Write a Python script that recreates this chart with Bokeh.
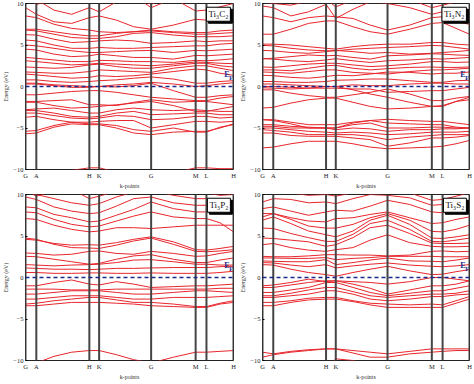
from bokeh.plotting import figure
from bokeh.layouts import column, row
from bokeh.models import Range1d, Span, Label, FixedTicker
from bokeh.embed import file_html
from bokeh.resources import INLINE

# high-symmetry path
hs_labels = ["G", "A", "H", "K", "G", "M", "L", "H"]
hs_pos = [0.0, 0.052, 0.307, 0.354, 0.604, 0.818, 0.870, 1.0]
# k sampling used for band values
kpts = [0.0, 0.052, 0.137, 0.222, 0.307, 0.354, 0.437, 0.520, 0.604, 0.711, 0.818, 0.870, 0.935, 1.0]
energy_ticks = [-10, -5, 0, 5, 10]

titles = ["Ti\u2083C\u2082", "Ti\u2083N\u2082", "Ti\u2083P\u2082", "Ti\u2083S\u2082"]

bands_ti3c2 = [
    [-11, -11, -10.6, -10.1, -9.8, -9.8, -10.3, -10.8, -11, -10.4, -9.8, -9.8, -9.9, -9.9],
    [-5.7, -5.6, -4.9, -4.5, -4.6, -4.6, -5.0, -5.6, -5.8, -5.5, -5.4, -5.4, -5.0, -4.5],
    [-5.4, -5.3, -4.7, -4.3, -4.5, -4.5, -4.7, -5.2, -5.4, -5.0, -5.5, -5.5, -4.9, -4.6],
    [-3.7, -3.6, -4.0, -4.3, -4.3, -4.2, -4.1, -4.1, -5.0, -4.6, -4.2, -4.2, -4.3, -4.2],
    [-3.2, -3.2, -3.5, -3.8, -3.9, -3.8, -3.5, -3.6, -4.0, -3.9, -3.6, -3.6, -3.8, -3.7],
    [-2.9, -2.9, -3.2, -3.6, -3.7, -3.6, -3.2, -3.0, -3.4, -3.3, -3.2, -3.2, -3.4, -3.4],
    [-2.8, -2.7, -2.6, -2.9, -3.2, -3.2, -2.8, -2.6, -2.8, -2.9, -2.8, -2.9, -3.0, -3.0],
    [-1.9, -1.9, -2.3, -2.6, -2.5, -2.4, -2.2, -2.0, -1.8, -2.3, -3.0, -3.0, -2.7, -2.4],
    [-1.8, -1.8, -1.7, -1.6, -2.2, -2.2, -2.3, -1.9, -1.6, -1.9, -1.8, -1.8, -2.0, -2.2],
    [-1.0, -1.0, -0.8, -0.6, -0.5, -0.5, -0.7, -1.0, -1.3, -1.5, -1.7, -1.7, -1.4, -1.2],
    [0.3, 0.3, 0.1, -0.1, -0.1, 0.0, -0.05, 0.1, 0.4, -0.5, -1.3, -1.3, -1.1, -1.0],
    [0.4, 0.4, 0.2, 0.1, 0.0, 0.0, 0.2, 0.3, 0.5, 0.3, 0.0, 0.1, 0.3, 0.45],
    [0.8, 0.8, 0.6, 0.5, 0.6, 0.7, 0.8, 1.0, 1.15, 0.9, 0.4, 0.4, 0.6, 0.7],
    [1.5, 1.4, 1.2, 1.0, 1.1, 1.3, 1.2, 1.3, 1.5, 1.8, 2.1, 2.0, 1.6, 1.35],
    [1.75, 1.7, 1.6, 1.6, 1.8, 2.0, 1.9, 1.8, 1.7, 2.2, 2.5, 2.5, 2.2, 1.9],
    [2.35, 2.3, 2.2, 2.3, 2.6, 2.7, 2.4, 2.2, 2.2, 2.5, 2.8, 2.8, 2.5, 2.35],
    [3.1, 3.0, 2.8, 2.6, 2.7, 2.8, 2.7, 2.6, 2.5, 2.7, 2.95, 2.9, 2.8, 2.75],
    [3.5, 3.4, 3.2, 3.0, 3.0, 3.15, 3.1, 3.0, 3.0, 2.9, 3.15, 3.1, 3.2, 3.35],
    [4.5, 4.4, 3.9, 3.6, 3.7, 3.9, 3.7, 3.5, 3.5, 3.3, 3.75, 3.7, 3.8, 3.9],
    [5.0, 4.9, 4.6, 4.3, 4.1, 4.1, 4.2, 4.3, 4.35, 4.1, 4.35, 4.3, 4.4, 4.5],
    [5.6, 5.5, 5.0, 4.6, 4.6, 4.7, 4.6, 4.6, 4.7, 4.8, 4.9, 4.9, 5.1, 5.2],
    [6.25, 6.2, 5.7, 5.3, 5.4, 5.5, 5.6, 5.5, 5.2, 5.3, 5.5, 5.4, 5.5, 5.5],
    [6.8, 6.7, 6.3, 5.9, 5.8, 5.8, 6.0, 6.4, 6.5, 6.2, 6.0, 6.0, 6.0, 6.1],
    [6.9, 6.9, 6.6, 6.3, 6.1, 6.1, 6.4, 6.6, 6.7, 6.5, 6.3, 6.3, 6.4, 6.5],
    [8.5, 8.3, 7.5, 7.0, 6.8, 6.6, 6.5, 6.6, 6.8, 6.6, 6.5, 6.5, 6.7, 6.8],
    [9.5, 8.7, 7.8, 7.6, 8.3, 8.5, 8.0, 7.2, 6.9, 7.4, 8.1, 8.0, 8.1, 8.2],
    [10.5, 10.5, 9.2, 8.7, 9.5, 9.0, 10.2, 11, 9.5, 10.6, 9.1, 9.2, 9.6, 10.0],
    [11, 9.9, 10.4, 11, 11, 10.5, 11, 11, 9.9, 11, 10.2, 10.5, 11, 11],
]

bands_ti3n2 = [
    [-7.4, -7.3, -6.9, -6.6, -6.6, -6.6, -6.9, -7.3, -7.5, -7.4, -7.3, -7.2, -6.9, -6.5],
    [-5.6, -5.6, -5.9, -6.0, -6.0, -6.0, -6.2, -6.4, -7.2, -6.8, -6.2, -6.2, -6.1, -5.9],
    [-5.2, -5.3, -5.5, -5.8, -5.8, -5.8, -5.8, -6.0, -6.4, -6.1, -5.9, -5.8, -5.8, -5.8],
    [-5.0, -5.0, -5.2, -5.4, -5.5, -5.6, -5.5, -5.6, -5.8, -5.7, -5.5, -5.5, -5.5, -5.4],
    [-4.8, -4.8, -5.0, -5.0, -5.0, -5.2, -5.0, -5.1, -5.4, -5.2, -5.2, -5.1, -5.1, -5.0],
    [-4.6, -4.6, -4.8, -4.9, -5.0, -5.0, -4.6, -4.4, -5.0, -5.0, -4.9, -4.9, -5.0, -5.0],
    [-4.0, -4.0, -4.3, -4.6, -4.6, -4.6, -4.3, -4.1, -3.95, -4.1, -4.2, -4.2, -4.4, -4.6],
    [-4.0, -4.1, -4.5, -5.0, -5.0, -5.0, -4.4, -4.1, -4.4, -4.5, -4.6, -4.6, -4.9, -5.0],
    [-2.6, -2.5, -2.0, -1.6, -1.4, -1.4, -1.9, -2.4, -2.7, -2.6, -2.4, -2.3, -1.8, -1.6],
    [-0.15, -0.2, -0.3, -0.2, 0.0, 0.0, -0.4, -0.9, -1.3, -1.9, -2.4, -2.4, -1.8, -1.3],
    [-0.4, -0.4, -0.8, -1.1, -1.3, -1.3, -1.0, -0.7, -0.3, -0.9, -1.7, -1.7, -1.4, -1.2],
    [0.0, 0.0, -0.1, -0.2, -0.2, -0.2, -0.3, -0.3, -0.7, -0.6, -0.5, -0.5, -0.3, -0.1],
    [0.3, 0.3, 0.2, 0.1, 0.0, 0.0, 0.2, 0.1, 0.1, 0.3, 0.4, 0.4, 0.3, 0.3],
    [0.6, 0.6, 0.5, 0.5, 0.6, 0.75, 0.8, 0.9, 0.9, 0.7, 0.5, 0.5, 0.7, 0.75],
    [1.35, 1.3, 1.1, 1.0, 1.2, 1.35, 1.3, 1.5, 1.75, 1.7, 1.5, 1.6, 1.6, 1.75],
    [1.75, 1.7, 1.6, 1.8, 2.0, 2.0, 1.7, 1.6, 1.5, 1.8, 2.0, 2.0, 2.1, 2.2],
    [2.0, 2.0, 1.9, 2.2, 2.5, 2.55, 2.2, 2.0, 2.15, 2.3, 2.35, 2.3, 2.3, 2.35],
    [2.35, 2.3, 2.5, 2.7, 2.8, 2.8, 2.6, 2.4, 2.5, 2.7, 3.0, 3.0, 2.9, 2.95],
    [3.35, 3.3, 3.1, 3.0, 3.2, 3.35, 3.1, 2.9, 3.1, 3.2, 3.35, 3.3, 3.4, 3.5],
    [3.35, 3.4, 3.6, 3.8, 3.7, 3.75, 3.5, 3.3, 3.7, 3.8, 3.95, 3.9, 3.8, 3.75],
    [4.35, 4.3, 4.1, 4.0, 4.2, 4.35, 4.2, 4.0, 4.1, 3.9, 4.0, 4.1, 4.2, 4.35],
    [4.95, 4.9, 4.6, 4.4, 4.3, 4.3, 4.5, 4.6, 4.7, 4.8, 4.95, 4.9, 4.7, 4.5],
    [5.1, 5.1, 5.0, 4.8, 4.6, 4.5, 4.8, 5.0, 5.1, 5.1, 5.3, 5.3, 5.1, 5.0],
    [6.3, 6.3, 6.9, 7.6, 7.9, 7.9, 7.2, 6.6, 6.3, 6.9, 7.6, 7.7, 7.0, 6.3],
    [8.5, 8.3, 7.8, 8.3, 8.5, 8.4, 8.2, 7.4, 6.8, 7.4, 8.3, 8.4, 7.8, 7.5],
    [9.7, 9.5, 8.5, 9.0, 9.9, 8.2, 9.3, 10.2, 10.0, 9.5, 8.7, 9.0, 9.2, 9.3],
    [10.2, 10.0, 9.8, 10.3, 10.5, 9.6, 10.4, 11, 10.3, 10.5, 9.5, 9.8, 10.2, 10.4],
]

bands_ti3p2 = [
    [-10.8, -10.3, -9.5, -9.0, -8.8, -8.8, -9.3, -9.9, -10.3, -9.6, -9.0, -9.0, -8.9, -8.8],
    [-3.4, -3.4, -3.2, -3.0, -3.0, -3.0, -3.1, -3.2, -3.4, -3.5, -3.6, -3.6, -3.2, -3.0],
    [-3.2, -3.1, -2.8, -2.6, -2.4, -2.4, -2.7, -3.0, -3.0, -3.2, -3.5, -3.5, -3.1, -2.8],
    [-2.6, -2.6, -2.4, -2.2, -2.2, -2.2, -2.4, -2.6, -2.6, -2.4, -2.4, -2.4, -2.3, -2.2],
    [-2.0, -2.0, -1.8, -1.6, -1.6, -1.6, -1.8, -2.0, -2.0, -1.8, -1.6, -1.6, -1.7, -1.8],
    [-1.4, -1.4, -1.4, -1.5, -1.5, -1.5, -1.4, -1.4, -1.4, -1.4, -1.4, -1.4, -1.3, -1.3],
    [-1.0, -1.0, -0.6, -0.3, -0.8, -0.9, -0.5, -0.8, -1.2, -1.1, -1.0, -1.0, -0.9, -0.8],
    [0.6, 0.6, 0.5, 0.5, 0.55, 0.55, 0.5, 0.5, 0.55, 0.5, 0.5, 0.5, 0.6, 0.75],
    [1.15, 1.1, 1.0, 1.0, 0.95, 1.0, 1.1, 1.1, 1.15, 1.2, 1.2, 1.2, 1.3, 1.35],
    [1.55, 1.5, 1.4, 1.5, 1.55, 1.6, 1.8, 2.1, 2.15, 1.9, 1.6, 1.6, 1.5, 1.5],
    [2.55, 2.5, 2.2, 1.9, 1.6, 1.7, 2.2, 2.6, 2.75, 2.2, 1.8, 1.8, 2.1, 2.35],
    [2.95, 2.9, 2.7, 2.8, 3.15, 3.2, 2.9, 2.8, 3.15, 2.9, 2.55, 2.6, 2.9, 3.15],
    [4.75, 4.6, 4.0, 3.6, 3.55, 3.5, 3.9, 4.4, 4.75, 4.0, 3.15, 3.1, 3.2, 3.35],
    [4.6, 4.5, 4.1, 3.9, 3.95, 3.9, 4.2, 4.6, 4.9, 4.3, 3.35, 3.3, 3.5, 3.75],
    [7.1, 7.0, 6.3, 5.8, 5.5, 5.6, 6.0, 6.0, 5.9, 6.1, 6.3, 6.3, 6.3, 6.3],
    [7.9, 7.8, 7.0, 6.4, 6.1, 6.2, 6.8, 7.4, 7.9, 7.3, 7.1, 7.1, 6.6, 5.5],
    [8.5, 8.4, 7.6, 7.2, 6.7, 6.8, 7.5, 8.2, 9.1, 8.3, 7.9, 7.9, 7.8, 7.9],
    [9.7, 9.4, 8.5, 8.0, 7.7, 7.8, 8.6, 9.5, 9.7, 9.0, 8.7, 8.7, 8.4, 8.5],
    [10.3, 10.0, 9.5, 9.0, 8.7, 8.9, 9.7, 10.3, 10.5, 9.9, 9.5, 9.5, 9.2, 9.2],
    [10.5, 9.8, 10.4, 10.6, 9.5, 9.8, 10.4, 10.8, 10.5, 10.4, 10.3, 10.2, 9.9, 10.0],
]

bands_ti3s2 = [
    [-9.0, -9.2, -8.9, -8.7, -8.6, -8.6, -8.8, -9.0, -9.2, -8.9, -8.6, -8.6, -8.6, -8.6],
    [-9.6, -9.3, -9.0, -8.8, -8.6, -8.6, -9.1, -9.6, -9.6, -9.2, -9.0, -8.9, -8.8, -8.8],
    [-10.6, -10.5, -10.8, -11, -11, -9.8, -10.0, -10.6, -11, -10.8, -10.6, -10.6, -10.8, -11],
    [-3.4, -3.4, -3.0, -2.7, -2.6, -2.6, -2.9, -3.3, -3.6, -3.6, -3.6, -3.6, -3.1, -2.6],
    [-3.0, -3.0, -2.8, -2.5, -2.4, -2.4, -2.8, -3.1, -3.2, -3.3, -3.2, -3.3, -2.8, -2.3],
    [-2.4, -2.4, -2.2, -2.0, -1.6, -1.6, -2.0, -2.6, -2.8, -2.6, -2.3, -2.3, -2.1, -2.0],
    [-2.2, -2.2, -1.9, -1.5, -1.2, -1.2, -1.7, -2.2, -2.4, -2.2, -2.0, -2.0, -1.9, -1.6],
    [-1.8, -1.8, -1.5, -1.2, -0.6, -0.6, -1.2, -1.8, -2.2, -1.9, -1.6, -1.6, -1.3, -1.0],
    [-1.2, -1.2, -0.9, -0.6, -0.4, -0.4, -0.8, -1.3, -2.0, -1.5, -1.0, -1.0, -0.8, -0.4],
    [-1.0, -0.9, -0.6, -0.2, -0.5, -0.4, -0.5, -0.6, -0.8, -0.5, 0.0, 0.0, -0.2, -0.4],
    [1.55, 1.5, 1.0, 0.6, 0.35, 0.15, 0.6, 1.0, 1.35, 0.8, 0.35, 0.4, 0.7, 0.95],
    [1.8, 1.75, 1.5, 1.3, 1.55, 1.15, 1.4, 1.6, 1.75, 1.5, 1.35, 1.3, 1.4, 1.55],
    [2.0, 1.95, 1.9, 1.9, 2.15, 1.55, 1.8, 2.1, 2.35, 2.0, 1.95, 1.9, 2.1, 2.35],
    [2.35, 2.35, 2.3, 2.3, 2.4, 2.15, 2.3, 2.4, 2.55, 2.55, 2.55, 2.5, 2.5, 2.5],
    [2.55, 2.5, 2.5, 2.6, 2.75, 2.75, 2.7, 2.7, 2.6, 2.7, 3.15, 3.2, 3.1, 3.15],
    [3.95, 4.1, 3.6, 3.3, 3.15, 3.35, 3.6, 4.5, 5.15, 4.2, 3.75, 3.7, 3.7, 3.75],
    [4.75, 4.7, 4.5, 4.3, 3.75, 3.95, 4.8, 6.0, 6.3, 5.3, 4.15, 4.1, 4.1, 4.15],
    [5.95, 5.9, 5.3, 4.8, 4.35, 4.35, 5.2, 6.5, 6.9, 5.8, 4.35, 4.3, 4.5, 4.75],
    [6.9, 7.3, 6.5, 5.6, 5.15, 4.9, 5.6, 6.9, 7.5, 6.4, 4.75, 4.7, 4.9, 5.15],
    [7.3, 7.7, 7.0, 6.2, 5.95, 5.95, 6.4, 7.2, 7.7, 6.9, 5.55, 5.5, 5.8, 6.3],
    [7.7, 7.7, 7.2, 6.8, 6.7, 7.1, 7.2, 7.6, 7.9, 7.2, 6.5, 6.6, 7.0, 7.3],
    [8.3, 8.5, 8.0, 7.5, 7.9, 8.1, 8.0, 8.6, 9.3, 8.8, 7.9, 7.8, 7.9, 7.9],
    [9.1, 9.5, 9.4, 9.0, 9.1, 8.9, 9.5, 10.0, 9.9, 9.6, 8.7, 8.8, 9.0, 9.3],
    [10.2, 10.3, 10.2, 9.9, 10.0, 9.8, 10.2, 10.5, 10.5, 10.2, 9.3, 9.4, 9.8, 10.2],
]

all_bands = [bands_ti3c2, bands_ti3n2, bands_ti3p2, bands_ti3s2]

FONT = "Liberation Serif"
RED = "#e8262c"
GRAY = "#454545"
BLUE = "#1c2a8c"

# (width, height, min_border_left, right, top, bottom)
sizes = [
    (237, 191, 14, 4, 3, 14),
    (236, 191, 14, 4, 3, 14),
    (237, 191, 14, 4, 3, 14),
    (236, 191, 14, 4, 3, 14),
]


def make_panel(i):
    w, h, bl, br, bt, bb = sizes[i]
    p = figure(width=w, height=h, output_backend="svg", toolbar_location=None,
               x_range=Range1d(0, 1), y_range=Range1d(-10, 10),
               min_border_left=bl, min_border_right=br,
               min_border_top=bt, min_border_bottom=bb)
    p.grid.visible = False
    p.outline_line_color = "#222222"
    p.outline_line_width = 1
    p.background_fill_color = "white"

    bands = all_bands[i]
    p.multi_line(xs=[kpts] * len(bands), ys=bands, line_color=RED, line_width=1)

    # high-symmetry verticals as thin filled bars
    p.rect(x=hs_pos, y=[0] * len(hs_pos), width=2, height=20, width_units="screen",
           fill_color=GRAY, line_color=None)
    p.add_layout(Span(location=0, dimension="width", line_color=BLUE,
                      line_width=1.5, line_dash="4 3"))

    # axes
    p.xaxis.ticker = FixedTicker(ticks=hs_pos)
    p.xaxis.major_label_overrides = {x: l for x, l in zip(hs_pos, hs_labels)}
    p.xaxis.major_tick_line_color = None
    p.xaxis.major_tick_in = 0
    p.xaxis.major_tick_out = 0
    p.xaxis.minor_tick_line_color = None
    p.xaxis.minor_tick_in = 0
    p.xaxis.minor_tick_out = 0
    p.xaxis.axis_line_color = None
    p.xaxis.major_label_standoff = 2
    p.xaxis.axis_label = "k-points"
    p.xaxis.axis_label_standoff = 1
    p.yaxis.ticker = FixedTicker(ticks=energy_ticks)
    p.yaxis.minor_tick_line_color = None
    p.yaxis.minor_tick_in = 0
    p.yaxis.minor_tick_out = 0
    p.yaxis.major_tick_in = 2
    p.yaxis.major_tick_out = 0
    p.yaxis.axis_line_color = None
    p.yaxis.major_label_standoff = 2
    p.yaxis.axis_label = "Energy (eV)"
    p.yaxis.axis_label_standoff = 1
    for ax in (p.xaxis, p.yaxis):
        ax.major_label_text_font = FONT
        ax.major_label_text_font_size = "6.5px"
        ax.major_label_text_color = "#222222"
        ax.axis_label_text_font = FONT
        ax.axis_label_text_font_size = "6px"
        ax.axis_label_text_font_style = "normal"
        ax.axis_label_text_color = "#333333"

    # compound label box with shadow
    p.add_layout(Label(x=0.985, y=9.55, x_offset=2, y_offset=-2, text=titles[i],
                       text_align="right", text_baseline="top",
                       text_font=FONT, text_font_size="9px", text_color="black",
                       background_fill_color="black", border_line_color="black",
                       padding=2))
    p.add_layout(Label(x=0.985, y=9.55, text=titles[i],
                       text_align="right", text_baseline="top",
                       text_font=FONT, text_font_size="9px", text_color="#111111",
                       background_fill_color="white", border_line_color="black",
                       border_line_width=1, padding=2))
    # Fermi level label
    p.add_layout(Label(x=0.955, y=0.95, text="E", text_font=FONT,
                       text_font_size="8px", text_color=BLUE,
                       text_font_style="bold", text_baseline="bottom"))
    p.add_layout(Label(x=0.955, y=0.95, x_offset=5, y_offset=-2, text="F",
                       text_font=FONT, text_font_size="6px", text_color=BLUE,
                       text_font_style="bold", text_baseline="bottom"))
    return p


panels = [make_panel(i) for i in range(4)]
layout = column(row(panels[0], panels[1]), row(panels[2], panels[3]))

open("out.html", "w").write(file_html(layout, INLINE))
